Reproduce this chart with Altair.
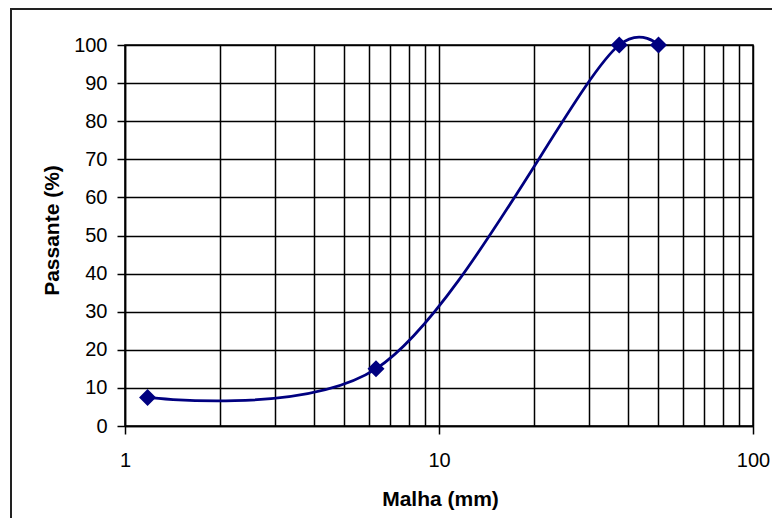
import altair as alt
import pandas as pd

# data
malha = [1.18, 6.3, 37.5, 50]
passante = [7.5, 15, 100, 100]

x_grid_values = [1, 2, 3, 4, 5, 6, 7, 8, 9, 10, 20, 30, 40, 50, 60, 70, 80, 90, 100]
y_values = [0, 10, 20, 30, 40, 50, 60, 70, 80, 90, 100]

df = pd.DataFrame({"malha": malha, "passante": passante})

FONT = "Liberation Sans"
NAVY = "#000080"

x_enc = alt.X(
    "malha:Q",
    scale=alt.Scale(type="log", domain=[1, 100], nice=False),
    axis=alt.Axis(
        values=x_grid_values,
        labelExpr="indexof([1,10,100], datum.value) >= 0 ? format(datum.value, 'd') : ''",
        title="Malha (mm)",
        grid=True,
        gridColor="black",
        gridWidth=1.5,
        gridOpacity=1,
        domainColor="black",
        domainWidth=1.5,
        tickColor="black",
        tickWidth=1.5,
        tickSize=8,
        tickOpacity={"condition": {"test": "indexof([1,10,100], datum.value) >= 0", "value": 1}, "value": 0},
        labelFont=FONT,
        labelFontSize=20,
        labelColor="black",
        labelPadding=16,
        labelFlush=False,
        labelOverlap=False,
        titleFont=FONT,
        titleFontSize=21,
        titleFontWeight="bold",
        titleColor="black",
        titleBaseline="alphabetic",
        titleX=315,
        titleY=79,
    ),
)

y_enc = alt.Y(
    "passante:Q",
    scale=alt.Scale(domain=[0, 100], nice=False),
    axis=alt.Axis(
        values=y_values,
        title="Passante (%)",
        grid=True,
        gridColor="black",
        gridWidth=1.5,
        gridOpacity=1,
        domainColor="black",
        domainWidth=1.5,
        tickColor="black",
        tickWidth=1.5,
        tickSize=8,
        labelFont=FONT,
        labelFontSize=20,
        labelColor="black",
        labelPadding=10,
        labelOverlap=False,
        titleFont=FONT,
        titleFontSize=21,
        titleFontWeight="bold",
        titleColor="black",
        titleAngle=270,
        titleAlign="center",
        titleBaseline="alphabetic",
        titleX=-67,
        titleY=185,
    ),
)

base = alt.Chart(df).encode(x=x_enc, y=y_enc)

line = base.mark_line(
    interpolate="catmull-rom", tension=0.3, color=NAVY, strokeWidth=2.75
)

points = base.mark_point(
    shape="diamond", filled=True, size=290, color=NAVY, opacity=1
)

frame = alt.Chart(pd.DataFrame({"f": [0]})).mark_rect(
    filled=False, stroke="#222222", strokeWidth=2, fillOpacity=0
).encode(
    x=alt.value(-114), x2=alt.value(720), y=alt.value(-36), y2=alt.value(520)
)

chart = (
    alt.layer(frame, line, points)
    .properties(
        width=628,
        height=381,
        autosize=alt.AutoSizeParams(type="none"),
        padding={"left": 117, "top": 37, "right": 19, "bottom": 92},
        background="white",
    )
    .configure_view(stroke="black", strokeWidth=1.5)
)

chart.save("out.html", embed_options={"renderer": "svg", "actions": False})
